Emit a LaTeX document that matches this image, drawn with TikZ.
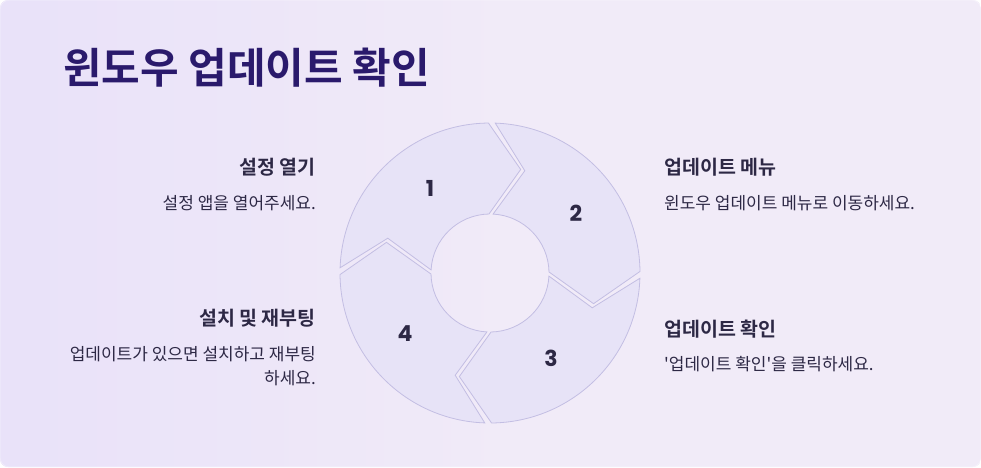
\documentclass[tikz,border=0pt]{standalone}
\usepackage{fontspec}
\newfontfamily\kr{Noto Sans CJK KR}
\newfontfamily\krb{Noto Sans CJK KR Bold}
\newfontfamily\num{Poppins Bold}
\definecolor{bgA}{HTML}{E4DCFB}
\definecolor{bgB}{HTML}{F1EBF8}
\definecolor{segfill}{HTML}{E7E3F7}
\definecolor{segline}{HTML}{C3BEE3}
\definecolor{titlec}{HTML}{2A1A6C}
\definecolor{txt}{HTML}{2D2845}
\begin{document}
\begin{tikzpicture}[x=1pt,y=-1pt,
  seg/.style={fill=segfill,draw=segline,line width=0.8pt,line join=miter},
  numl/.style={font=\num\fontsize{22}{24}\selectfont,text=txt},
  head/.style={font=\krb\fontsize{19.5}{22}\selectfont,text=txt,inner sep=0},
  desc/.style={font=\kr\fontsize{17}{24}\selectfont,text=txt,inner sep=0}]
\useasboundingbox (0,0) rectangle (981,467);
\shade[top color=bgB,bottom color=bgB,rounded corners=8pt] (0,0) rectangle (981,467);
\shade[left color=bgA,right color=bgB,rounded corners=8pt,opacity=0.6] (0,0) rectangle (500,467);
\draw[white,opacity=0.5,rounded corners=8pt] (0.5,0.5) rectangle (980.5,466.5);
\def\cx{490}\def\cy{273}\def\R{150}\def\r{59}\def\T{108}
\foreach \k in {1,2,3,4}{
  \pgfmathsetmacro\as{180-90*(\k-1)}
  \pgfmathsetmacro\ae{\as-90}
  \draw[seg] ({\cx+\R*cos(\as-2)},{\cy-\R*sin(\as-2)})
    arc[start angle=-(\as-2),end angle=-(\ae+0.6),radius=\R]
    -- ({\cx+\T*cos(\ae-16.5)},{\cy-\T*sin(\ae-16.5)})
    -- ({\cx+\r*cos(\ae+1)},{\cy-\r*sin(\ae+1)})
    arc[start angle=-(\ae+1),end angle=-(\as-3),radius=\r]
    -- ({\cx+\T*cos(\as-18.8)},{\cy-\T*sin(\as-18.8)})
    -- cycle;
}
\node[numl] (n1) at (430,188) {1};
\node[numl] (n2) at (576,213) {2};
\node[numl] (n3) at (551,358) {3};
\node[numl] (n4) at (405,334) {4};
\node[anchor=west,inner sep=0,font=\krb\fontsize{42}{44}\selectfont,text=titlec] (title) at (63,68) {윈도우 업데이트 확인};
\node[head,anchor=east] (h1) at (316,167) {설정 열기};
\node[desc,anchor=east] (d1) at (316,203) {설정 앱을 열어주세요.};
\node[head,anchor=west] (h2) at (664,167) {업데이트 메뉴};
\node[desc,anchor=west] (d2) at (664,203) {윈도우 업데이트 메뉴로 이동하세요.};
\node[head,anchor=west] (h3) at (664,329) {업데이트 확인};
\node[desc,anchor=west] (d3) at (664,364) {'업데이트 확인'을 클릭하세요.};
\node[head,anchor=east] (h4) at (316,318) {설치 및 재부팅};
\node[desc,anchor=east,align=right] (d4) at (316,366) {업데이트가 있으면 설치하고 재부팅\\하세요.};
\end{tikzpicture}
\end{document}
